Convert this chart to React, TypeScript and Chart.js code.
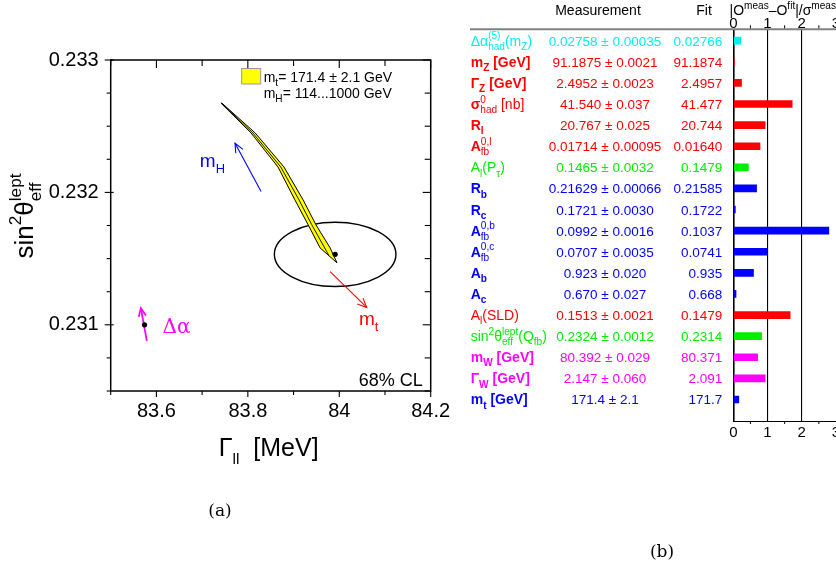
import React, { useEffect, useRef } from 'react';
import { Chart, registerables } from 'chart.js';

Chart.register(...registerables);

const SANS = '"Liberation Sans", Arial, Helvetica, sans-serif';
const SERIF = '"DejaVu Serif", "Liberation Serif", serif';

// ---------------- Panel (a): Gamma_ll vs sin^2 theta_eff ----------------
const gammaRange = [83.5, 84.2];
const sinRange = [0.2305, 0.233];
const gammaTicks = [83.5, 83.6, 83.7, 83.8, 83.9, 84.0, 84.1, 84.2];
const gammaTickLabels = ['', '83.6', '', '83.8', '', '84', '', '84.2'];
const sinTicks = [0.2305, 0.23075, 0.231, 0.23125, 0.2315, 0.23175, 0.232, 0.23225, 0.2325, 0.23275, 0.233];
const sinTickLabels = ['', '', '0.231', '', '', '', '0.232', '', '', '', '0.233'];

// SM band edges (m_t = 169.3 / 173.5 GeV) and central line, m_H = 1000 ... 114 GeV
const bandLowMtGamma = [83.741, 83.807, 83.866, 83.903, 83.932, 83.958];
const bandLowMtSin = [0.232675, 0.232449, 0.232192, 0.231943, 0.231755, 0.231581];
const bandHighMtGamma = [83.743, 83.816, 83.879, 83.921, 83.949, 83.98, 83.995];
const bandHighMtSin = [0.232675, 0.232449, 0.232192, 0.231943, 0.231755, 0.231581, 0.231468];
const bandCentralGamma = [83.742, 83.811, 83.872, 83.912, 83.94, 83.977];
const bandCentralSin = [0.232675, 0.232449, 0.232192, 0.231943, 0.231755, 0.231525];

// 68% CL measurement contour
const ellipseCentre = [83.991, 0.231532];
const ellipseHalfAxes = [0.133, 0.000243];

// arrows [tail, head]
const mHArrowGamma = [83.829, 83.772];
const mHArrowSin = [0.232006, 0.232371];
const mtArrowGamma = [83.98, 84.06];
const mtArrowSin = [0.231402, 0.231131];
const alphaArrowGamma = [83.579, 83.566];
const alphaArrowSin = [0.230879, 0.231126];
const alphaPoint = [83.574, 0.231];

const legendLines = ['m_{t}= 171.4 ± 2.1 GeV', 'm_{H}= 114...1000 GeV'];

// ---------------- Panel (b): pulls table ----------------
const observables = [
  'Δα_{had}^{(5)}(m_{Z})',
  '*m_{Z} [GeV]*',
  '*Γ_{Z} [GeV]*',
  '*σ*_{had}^{0} [nb]',
  '*R_{l}*',
  '*A*_{fb}^{0,l}',
  'A_{l}(P_{τ})',
  '*R_{b}*',
  '*R_{c}*',
  '*A*_{fb}^{0,b}',
  '*A*_{fb}^{0,c}',
  '*A_{b}*',
  '*A_{c}*',
  'A_{l}(SLD)',
  'sin^{2}θ_{eff}^{lept}(Q_{fb})',
  '*m_{W} [GeV]*',
  '*Γ_{W} [GeV]*',
  '*m_{t} [GeV]*',
];
const measurements = [
  '0.02758 ± 0.00035',
  '91.1875 ± 0.0021',
  '2.4952 ± 0.0023',
  '41.540 ± 0.037',
  '20.767 ± 0.025',
  '0.01714 ± 0.00095',
  '0.1465 ± 0.0032',
  '0.21629 ± 0.00066',
  '0.1721 ± 0.0030',
  '0.0992 ± 0.0016',
  '0.0707 ± 0.0035',
  '0.923 ± 0.020',
  '0.670 ± 0.027',
  '0.1513 ± 0.0021',
  '0.2324 ± 0.0012',
  '80.392 ± 0.029',
  '2.147 ± 0.060',
  '171.4 ± 2.1',
];
const fitValues = [
  '0.02766', '91.1874', '2.4957', '41.477', '20.744', '0.01640', '0.1479', '0.21585', '0.1722',
  '0.1037', '0.0741', '0.935', '0.668', '0.1479', '0.2314', '80.371', '2.091', '171.7',
];
const pulls = [0.22, 0.03, 0.24, 1.72, 0.93, 0.78, 0.44, 0.68, 0.06, 2.79, 0.98, 0.59, 0.08, 1.66, 0.83, 0.71, 0.93, 0.16];
const CY = '#00f0f0', RD = '#ff0000', GR = '#00ee00', BL = '#0000ff', MG = '#ff00ff';
const rowColors = [CY, RD, RD, RD, RD, RD, GR, BL, BL, BL, BL, BL, BL, RD, GR, MG, MG, BL];
const pullTicks = [0, 1, 2, 3];
const pullMinorTicks = [0.5, 1.5, 2.5];
const headers = ['Measurement', 'Fit', '|O^{meas}–O^{fit}|/σ^{meas}'];

// ---------------- rich text helper ----------------
type Seg = { t: string; m: number; b: boolean };
function parseRich(s: string): Seg[] {
  const out: Seg[] = [];
  let bold = false;
  let buf = '';
  const flush = () => {
    if (buf) out.push({ t: buf, m: 0, b: bold });
    buf = '';
  };
  for (let i = 0; i < s.length; i++) {
    const c = s[i];
    if (c === '*') {
      flush();
      bold = !bold;
      continue;
    }
    if ((c === '_' || c === '^') && s[i + 1] === '{') {
      flush();
      const end = s.indexOf('}', i + 2);
      out.push({ t: s.slice(i + 2, end), m: c === '_' ? 1 : 2, b: bold });
      i = end;
      continue;
    }
    buf += c;
  }
  flush();
  return out;
}
function drawRich(
  ctx: CanvasRenderingContext2D, s: string, x: number, y: number, size: number,
  family: string, color: string, align: string = 'left', ratio = 0.7,
) {
  const segs = parseRich(s);
  const small = size * ratio;
  let cx = 0;
  let stackX = -1;
  let stackW = 0;
  let prev = 0;
  const items: { t: string; font: string; x: number; dy: number }[] = [];
  for (const sg of segs) {
    const fs = sg.m === 0 ? size : small;
    const font = `${sg.b ? 'bold ' : ''}${fs}px ${family}`;
    ctx.font = font;
    const w = ctx.measureText(sg.t).width;
    const dy = sg.m === 1 ? size * 0.3 : sg.m === 2 ? -size * 0.45 : 0;
    if (sg.m !== 0 && prev !== 0 && prev !== sg.m && stackX >= 0) {
      items.push({ t: sg.t, font, x: stackX, dy });
      cx = stackX + Math.max(stackW, w);
      stackX = -1;
    } else {
      items.push({ t: sg.t, font, x: cx, dy });
      if (sg.m !== 0) {
        stackX = cx;
        stackW = w;
      } else stackX = -1;
      cx += w;
    }
    prev = sg.m;
  }
  const x0 = align === 'left' ? x : align === 'center' ? x - cx / 2 : x - cx;
  ctx.save();
  ctx.fillStyle = color;
  ctx.textAlign = 'left';
  ctx.textBaseline = 'alphabetic';
  for (const it of items) {
    ctx.font = it.font;
    ctx.fillText(it.t, x0 + it.x, y + it.dy);
  }
  ctx.restore();
}

function line(ctx: CanvasRenderingContext2D, x0: number, y0: number, x1: number, y1: number) {
  ctx.beginPath();
  ctx.moveTo(x0, y0);
  ctx.lineTo(x1, y1);
  ctx.stroke();
}
function arrowHead(ctx: CanvasRenderingContext2D, x0: number, y0: number, x1: number, y1: number, len: number, color: string, lw: number) {
  const a = Math.atan2(y1 - y0, x1 - x0);
  ctx.save();
  ctx.strokeStyle = color;
  ctx.lineWidth = lw;
  ctx.beginPath();
  ctx.moveTo(x1 - len * Math.cos(a - 0.42), y1 - len * Math.sin(a - 0.42));
  ctx.lineTo(x1, y1);
  ctx.lineTo(x1 - len * Math.cos(a + 0.42), y1 - len * Math.sin(a + 0.42));
  ctx.stroke();
  ctx.restore();
}

const pts = (xs: number[], ys: number[]) => xs.map((x, i) => ({ x, y: ys[i] }));

const panelAPlugin = {
  id: 'panelA',
  beforeDatasetsDraw(chart: any) {
    const { ctx, scales: { x, y } } = chart;
    const cx = x.getPixelForValue(ellipseCentre[0]);
    const cy = y.getPixelForValue(ellipseCentre[1]);
    const rx = Math.abs(x.getPixelForValue(ellipseCentre[0] + ellipseHalfAxes[0]) - cx);
    const ry = Math.abs(y.getPixelForValue(ellipseCentre[1] + ellipseHalfAxes[1]) - cy);
    ctx.save();
    ctx.beginPath();
    ctx.ellipse(cx, cy, rx, ry, 0, 0, Math.PI * 2);
    ctx.lineWidth = 1.4;
    ctx.strokeStyle = '#000';
    ctx.stroke();
    ctx.restore();
  },
  afterDatasetsDraw(chart: any) {
    const { ctx, scales: { x, y } } = chart;
    const head = (gx: number[], sy: number[], col: string, lw: number, len: number) =>
      arrowHead(ctx, x.getPixelForValue(gx[0]), y.getPixelForValue(sy[0]), x.getPixelForValue(gx[1]), y.getPixelForValue(sy[1]), len, col, lw);
    head(mHArrowGamma, mHArrowSin, BL, 1.1, 10);
    head(mtArrowGamma, mtArrowSin, RD, 1.1, 10);
    head(alphaArrowGamma, alphaArrowSin, MG, 1.8, 9);
  },
  afterDraw(chart: any) {
    const { ctx, chartArea: { left, right, top, bottom }, scales: { x, y } } = chart;
    ctx.save();
    ctx.strokeStyle = '#000';
    ctx.lineWidth = 1.5;
    ctx.strokeRect(left, top, right - left, bottom - top);
    ctx.lineWidth = 1.1;
    gammaTicks.forEach((v, i) => {
      const px = x.getPixelForValue(v);
      const major = gammaTickLabels[i] !== '';
      line(ctx, px, bottom, px, bottom + (major ? 6 : 4));
      line(ctx, px, top, px, top + (major ? 8 : 6));
    });
    sinTicks.forEach((v, i) => {
      const py = y.getPixelForValue(v);
      const major = sinTickLabels[i] !== '';
      line(ctx, left - (major ? 6 : 4), py, left + (major ? 3 : 0), py);
      line(ctx, right - (major ? 8 : 6), py, right, py);
    });
    // legend
    ctx.fillStyle = '#ffff00';
    ctx.fillRect(left + 131, top + 8.5, 19, 15.5);
    ctx.strokeStyle = '#999';
    ctx.lineWidth = 1;
    ctx.strokeRect(left + 131, top + 8.5, 19, 15.5);
    ctx.restore();
    drawRich(ctx, legendLines[0], left + 153, top + 22, 14, SANS, '#000', 'left', 0.72);
    drawRich(ctx, legendLines[1], left + 153, top + 38, 14, SANS, '#000', 'left', 0.72);
    drawRich(ctx, '68% CL', right - 8, bottom - 5, 18, SANS, '#000', 'right');
    // arrow labels
    drawRich(ctx, 'm_{H}', x.getPixelForValue(83.695), y.getPixelForValue(0.23219), 19, SANS, BL, 'left', 0.68);
    drawRich(ctx, 'm_{t}', x.getPixelForValue(84.043), y.getPixelForValue(0.231), 19, SANS, RD, 'left', 0.68);
    drawRich(ctx, 'Δα', x.getPixelForValue(83.6135), y.getPixelForValue(0.230937), 20, SERIF, MG, 'left');
    // axis titles
    drawRich(ctx, 'Γ_{ll}  [MeV]', (left + right) / 2 - 2, 456, 25, SANS, '#000', 'center', 0.62);
    ctx.save();
    ctx.translate(33, 216);
    ctx.rotate(-Math.PI / 2);
    drawRich(ctx, 'sin^{2}θ_{eff}^{lept}', 0, 0, 26, SANS, '#000', 'center', 0.66);
    ctx.restore();
    drawRich(ctx, '(a)', 220, 516, 17, SERIF, '#000', 'center');
  },
};

const panelBPlugin = {
  id: 'panelB',
  afterDraw(chart: any) {
    const { ctx, chartArea: { top, bottom }, scales: { x, y } } = chart;
    ctx.save();
    ctx.strokeStyle = '#808080';
    ctx.lineWidth = 2;
    line(ctx, 10, top, chart.width, top);
    ctx.strokeStyle = '#000';
    ctx.lineWidth = 1;
    pullMinorTicks.forEach((v) => {
      const px = x.getPixelForValue(v);
      line(ctx, px, top - 1, px, top - 4);
      line(ctx, px, bottom, px, bottom + 3);
    });
    ctx.restore();
    drawRich(ctx, headers[0], 138, 15, 14, SANS, '#000', 'center');
    drawRich(ctx, headers[1], 244, 15, 14, SANS, '#000', 'center');
    drawRich(ctx, headers[2], 269.5, 15, 14, SANS, '#000', 'left', 0.72);
    observables.forEach((lab, i) => {
      const py = y.getPixelForValue(i) + 5;
      const col = rowColors[i];
      drawRich(ctx, lab, 10.7, py, 14, SANS, col, 'left', 0.72);
      drawRich(ctx, measurements[i], 145, py, 13.5, SANS, col, 'center');
      drawRich(ctx, fitValues[i], 262.3, py, 13.5, SANS, col, 'right');
    });
    drawRich(ctx, '(b)', 202, 557, 17, SERIF, '#000', 'center');
  },
};

function makeChartA(canvas: HTMLCanvasElement) {
  return new Chart(canvas, {
    type: 'scatter',
    data: {
      datasets: [
        { data: [{ x: ellipseCentre[0], y: ellipseCentre[1] }, { x: alphaPoint[0], y: alphaPoint[1] }], pointRadius: 2.6, pointBackgroundColor: '#000', pointBorderWidth: 0, showLine: false } as any,
        { data: pts(alphaArrowGamma, alphaArrowSin), showLine: true, borderColor: MG, borderWidth: 1.8, pointRadius: 0 },
        { data: pts(mtArrowGamma, mtArrowSin), showLine: true, borderColor: RD, borderWidth: 1.1, pointRadius: 0 },
        { data: pts(mHArrowGamma, mHArrowSin), showLine: true, borderColor: BL, borderWidth: 1.1, pointRadius: 0 },
        { data: pts(bandCentralGamma, bandCentralSin), showLine: true, borderColor: '#000', borderWidth: 0.9, pointRadius: 0 },
        {
          data: [...pts(bandLowMtGamma, bandLowMtSin), ...pts(bandHighMtGamma, bandHighMtSin).reverse()],
          showLine: true, fill: 'shape', backgroundColor: '#ffff00', borderColor: '#000', borderWidth: 1, pointRadius: 0,
        } as any,
      ],
    },
    options: {
      animation: false,
      responsive: false,
      maintainAspectRatio: false,
      layout: { padding: { left: 0, top: 60, right: 29.3, bottom: 0 } },
      plugins: { legend: { display: false }, tooltip: { enabled: false } },
      scales: {
        x: {
          type: 'linear',
          min: gammaRange[0],
          max: gammaRange[1],
          afterBuildTicks: (s: any) => { s.ticks = gammaTicks.map((v) => ({ value: v })); },
          afterFit: (s: any) => { s.height = 182; },
          grid: { display: false, drawTicks: false },
          border: { display: false },
          ticks: {
            autoSkip: false, maxRotation: 0, padding: 8, color: '#000',
            font: { size: 20, family: SANS },
            callback: (_v: any, i: number) => gammaTickLabels[i],
          },
        },
        y: {
          type: 'linear',
          min: sinRange[0],
          max: sinRange[1],
          afterBuildTicks: (s: any) => { s.ticks = sinTicks.map((v) => ({ value: v })); },
          afterFit: (s: any) => { s.width = 110.7; },
          grid: { display: false, drawTicks: false },
          border: { display: false },
          ticks: {
            autoSkip: false, padding: 12, color: '#000',
            font: { size: 20, family: SANS },
            callback: (_v: any, i: number) => sinTickLabels[i],
          },
        },
      },
    } as any,
    plugins: [panelAPlugin],
  });
}

function makeChartB(canvas: HTMLCanvasElement) {
  return new Chart(canvas, {
    type: 'bar',
    data: {
      datasets: [
        {
          data: pulls.map((v, i) => ({ x: v, y: i })),
          backgroundColor: rowColors,
          borderWidth: 0,
          barThickness: 7,
        } as any,
      ],
    },
    options: {
      indexAxis: 'y',
      animation: false,
      responsive: false,
      maintainAspectRatio: false,
      layout: { padding: { left: 273.3, right: 10, top: 0, bottom: 0 } },
      plugins: { legend: { display: false }, tooltip: { enabled: false } },
      scales: {
        y: { type: 'linear', min: -0.54, max: 18.02, reverse: true, display: false, offset: false, grid: { offset: false } },
        x: {
          type: 'linear',
          position: 'bottom',
          min: 0,
          max: 3,
          afterBuildTicks: (s: any) => { s.ticks = pullTicks.map((v) => ({ value: v })); },
          afterFit: (s: any) => { s.height = 152; },
          grid: {
            drawTicks: false,
            color: (c: any) => (c.tick && c.tick.value === 3 ? 'rgba(0,0,0,0)' : '#000'),
            lineWidth: (c: any) => (c.tick && c.tick.value === 0 ? 1.6 : 1.1),
          },
          border: { display: true, color: '#000', width: 1 },
          ticks: { padding: 3, color: '#000', font: { size: 15, family: SANS } },
        },
        x2: {
          type: 'linear',
          axis: 'x',
          position: 'top',
          min: 0,
          max: 3,
          afterBuildTicks: (s: any) => { s.ticks = pullTicks.map((v) => ({ value: v })); },
          afterFit: (s: any) => { s.height = 29.3; },
          grid: { display: false, drawTicks: false },
          border: { display: false },
          ticks: { padding: -4, color: '#000', font: { size: 15, family: SANS } },
        },
      },
    } as any,
    plugins: [panelBPlugin],
  });
}

export default function App() {
  const refA = useRef<HTMLCanvasElement>(null);
  const refB = useRef<HTMLCanvasElement>(null);
  useEffect(() => {
    const a = makeChartA(refA.current!);
    const b = makeChartB(refB.current!);
    return () => {
      a.destroy();
      b.destroy();
    };
  }, []);
  return (
    <div style={{ position: 'absolute', left: 0, top: 0, width: 836, height: 573, overflow: 'hidden', background: '#fff' }}>
      <div style={{ position: 'absolute', left: 0, top: 0, width: 460, height: 573 }}>
        <canvas ref={refA} width={460} height={573} style={{ width: 460, height: 573 }} />
      </div>
      <div style={{ position: 'absolute', left: 460, top: 0, width: 386, height: 573 }}>
        <canvas ref={refB} width={386} height={573} style={{ width: 386, height: 573 }} />
      </div>
    </div>
  );
}
